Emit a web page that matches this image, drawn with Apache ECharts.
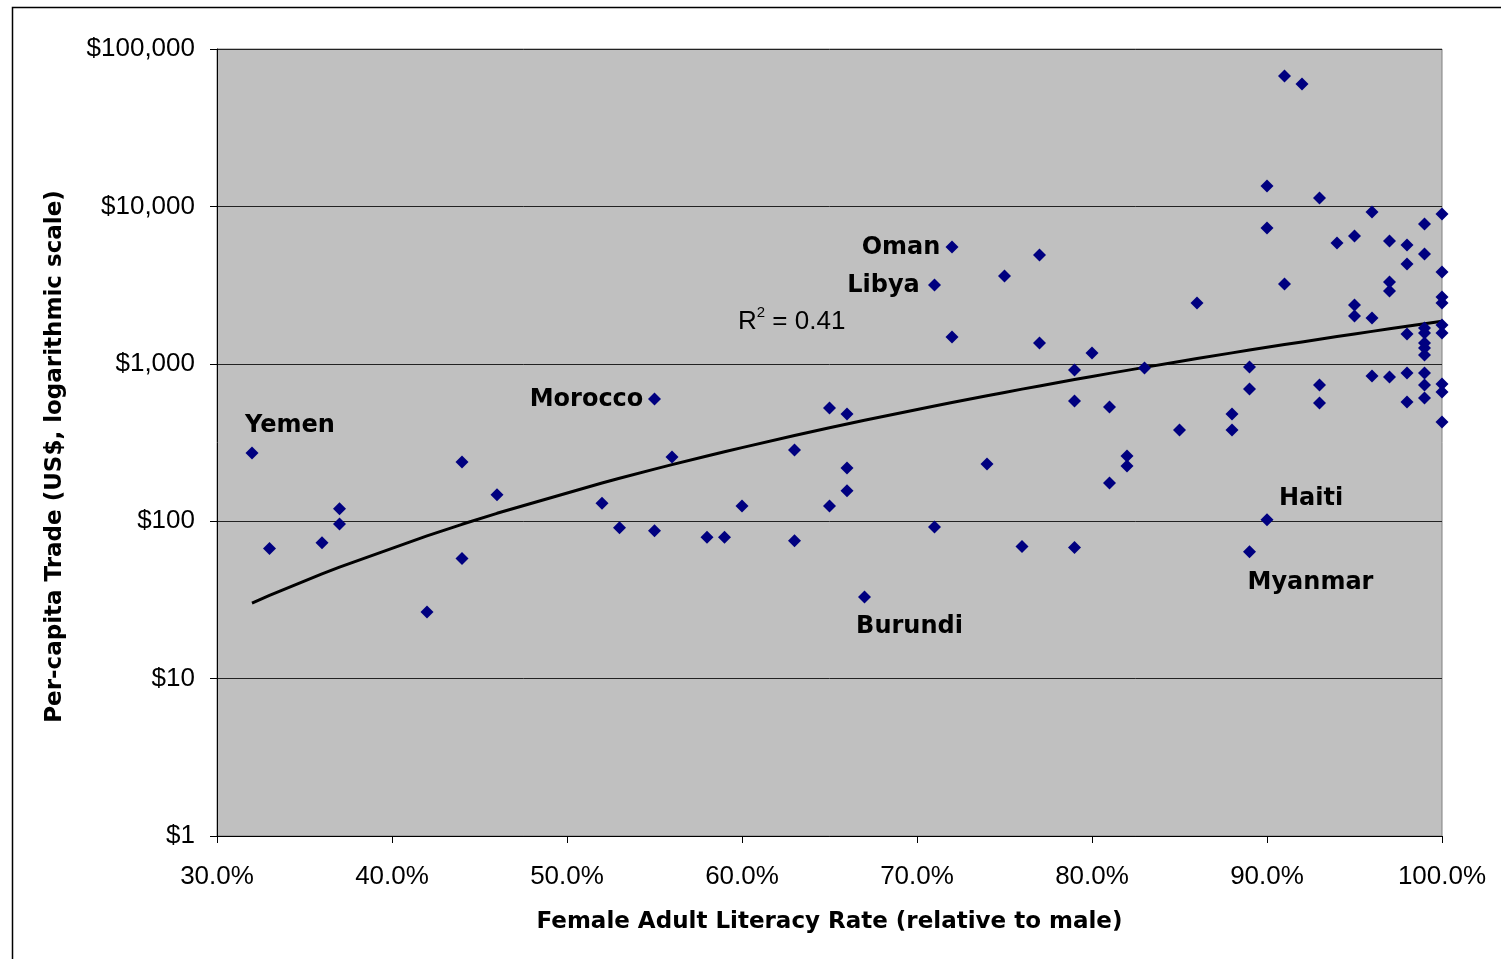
<!DOCTYPE html>
<html><head><meta charset="utf-8">
<script src="https://cdn.jsdelivr.net/npm/echarts@6/dist/echarts.min.js"></script>
<style>html,body{margin:0;padding:0;background:#fff}#c{width:1501px;height:959px}</style>
</head><body><div id="c"></div>
<script>
// Female adult literacy rate relative to male (%), unlabeled countries
const literacy = [
  33, 36, 37, 37, 42, 44, 44, 46,
  52, 53, 55, 56, 58, 59, 60, 63, 63,
  65, 65, 66, 66, 66, 71, 72, 74, 75, 76, 77, 77,
  79, 79, 79, 80, 81, 81, 82, 82, 83, 85, 86, 88, 88, 89, 89,
  90, 90, 91, 91, 92, 93, 93, 93, 94, 95, 95, 95,
  96, 96, 96, 97, 97, 97, 97,
  98, 98, 98, 98, 98,
  99, 99, 99, 99, 99, 99, 99, 99, 99, 99,
  100, 100, 100, 100, 100, 100, 100, 100, 100
];
// Per-capita trade (US$), same order
const trade = [
  67, 73, 120, 96, 26.5, 238, 58, 147,
  130, 91, 87, 256, 79, 79, 125, 283, 75,
  524, 125, 480, 218, 156, 92, 1480, 231, 3610, 69, 4910, 1356,
  914, 581, 68, 1172, 532, 175, 260, 224, 940, 380, 2433, 480, 380, 955, 692,
  13500, 7300, 67300, 3210, 60000, 11300, 733, 564, 5850, 6490, 2364, 2014,
  9210, 1955, 837, 6030, 3310, 2900, 824,
  5690, 4300, 1546, 874, 572,
  7730, 4990, 1688, 1570, 1356, 1260, 1138, 874, 734, 607,
  8950, 3830, 2656, 2434, 1763, 1570, 745, 662, 427
];
// Labeled countries
const labeledNames = ['Yemen', 'Morocco', 'Oman', 'Libya', 'Burundi', 'Haiti', 'Myanmar'];
const labeledLiteracy = [32, 55, 72, 71, 67, 90, 89];
const labeledTrade = [271, 598, 5520, 3170, 33, 102, 64];
// Axis ticks
const xTicks = [30, 40, 50, 60, 70, 80, 90, 100];
const yTicks = [1, 10, 100, 1000, 10000, 100000];
const rSquaredText = '0.41';

// label placement (pixels relative to marker)
const labelOffsets = {
  Yemen: [38, -27], Morocco: [-68, 1], Oman: [-51, 1], Libya: [-51, 1],
  Burundi: [45, 30], Haiti: [44, -21], Myanmar: [61, 31]
};

// Power trendline fitted from all points (least squares in log-log space)
const allX = literacy.concat(labeledLiteracy);
const allY = trade.concat(labeledTrade);
const lx = allX.map(v => Math.log(v / 100));
const ly = allY.map(v => Math.log(v));
const n = lx.length;
const mx = lx.reduce((a, b) => a + b, 0) / n;
const my = ly.reduce((a, b) => a + b, 0) / n;
let sxy = 0, sxx = 0;
for (let i = 0; i < n; i++) { sxy += (lx[i] - mx) * (ly[i] - my); sxx += (lx[i] - mx) * (lx[i] - mx); }
const bCoef = sxy / sxx;
const aCoef = Math.exp(my - bCoef * mx);
const trendX = Array.from(new Set(allX)).sort((a, b) => a - b);
const trendData = trendX.map(x => [x, aCoef * Math.pow(x / 100, bCoef)]);

const mainData = literacy.map((x, i) => [x, trade[i]]);
const labeledData = labeledNames.map((name, i) => ({
  name: name,
  value: [labeledLiteracy[i], labeledTrade[i]],
  label: { offset: labelOffsets[name] }
}));

const chart = echarts.init(document.getElementById('c'), null, { renderer: 'canvas' });
const markerStyle = { color: '#000080', opacity: 1 };
chart.setOption({
  animation: false,
  backgroundColor: '#ffffff',
  grid: {
    left: 217, right: 59, top: 49, bottom: 123,
    show: true, backgroundColor: '#C0C0C0', borderColor: '#808080', borderWidth: 1
  },
  xAxis: {
    type: 'value', min: xTicks[0], max: xTicks[xTicks.length - 1], interval: 10,
    axisLine: { show: true, onZero: false, lineStyle: { color: '#000', width: 1 } },
    axisTick: { show: true, length: 7, lineStyle: { color: '#000' } },
    axisLabel: {
      formatter: v => v.toFixed(1) + '%',
      fontFamily: 'Liberation Sans', fontSize: 26, color: '#000', margin: 28
    },
    splitLine: { show: false },
    name: 'Female Adult Literacy Rate (relative to male)',
    nameLocation: 'middle', nameGap: 75,
    nameTextStyle: { fontFamily: 'DejaVu Sans', fontWeight: 'bold', fontSize: 23, color: '#000' }
  },
  yAxis: {
    type: 'log', logBase: 10, min: yTicks[0], max: yTicks[yTicks.length - 1],
    axisLine: { show: true, lineStyle: { color: '#000', width: 1 } },
    axisTick: { show: true, length: 7, lineStyle: { color: '#000' } },
    axisLabel: {
      formatter: v => '$' + Math.round(v).toLocaleString('en-US'),
      fontFamily: 'Liberation Sans', fontSize: 26, color: '#000', margin: 22
    },
    splitLine: { show: true, lineStyle: { color: '#222', width: 1 } },
    minorTick: { show: false },
    name: 'Per-capita Trade (US$, logarithmic scale)',
    nameLocation: 'middle', nameGap: 150, nameRotate: 90,
    nameTextStyle: {
      fontFamily: 'DejaVu Sans', fontWeight: 'bold', fontSize: 23, color: '#000',
      padding: [0, 28, 0, 0]
    }
  },
  series: [
    {
      type: 'line', data: trendData, showSymbol: false, symbol: 'none', z: 2,
      lineStyle: { color: '#000', width: 3 }, silent: true
    },
    {
      type: 'scatter', data: mainData, symbol: 'diamond', symbolSize: 13, z: 3,
      itemStyle: markerStyle
    },
    {
      type: 'scatter', data: labeledData, symbol: 'diamond', symbolSize: 13, z: 3,
      itemStyle: markerStyle,
      label: {
        show: true, position: 'inside', formatter: p => p.name,
        align: 'center', verticalAlign: 'middle',
        fontFamily: 'DejaVu Sans', fontWeight: 'bold', fontSize: 24, color: '#000',
        textBorderWidth: 0, textShadowBlur: 0, opacity: 1
      }
    }
  ],
  graphic: [
    {
      type: 'rect', silent: true,
      shape: { x: 12.5, y: 7.5, width: 1700, height: 1200 },
      style: { fill: 'none', stroke: '#000', lineWidth: 1.5 }
    },
    {
      type: 'text', left: 738, top: 305, z: 10,
      style: {
        text: '{a|R}{s|2}{a| = ' + rSquaredText + '}',
        rich: {
          a: { fontFamily: 'Liberation Sans', fontSize: 26, color: '#000', lineHeight: 30, verticalAlign: 'bottom' },
          s: { fontFamily: 'Liberation Sans', fontSize: 15, color: '#000', lineHeight: 30, verticalAlign: 'top' }
        }
      }
    }
  ]
});
</script>
</body></html>
